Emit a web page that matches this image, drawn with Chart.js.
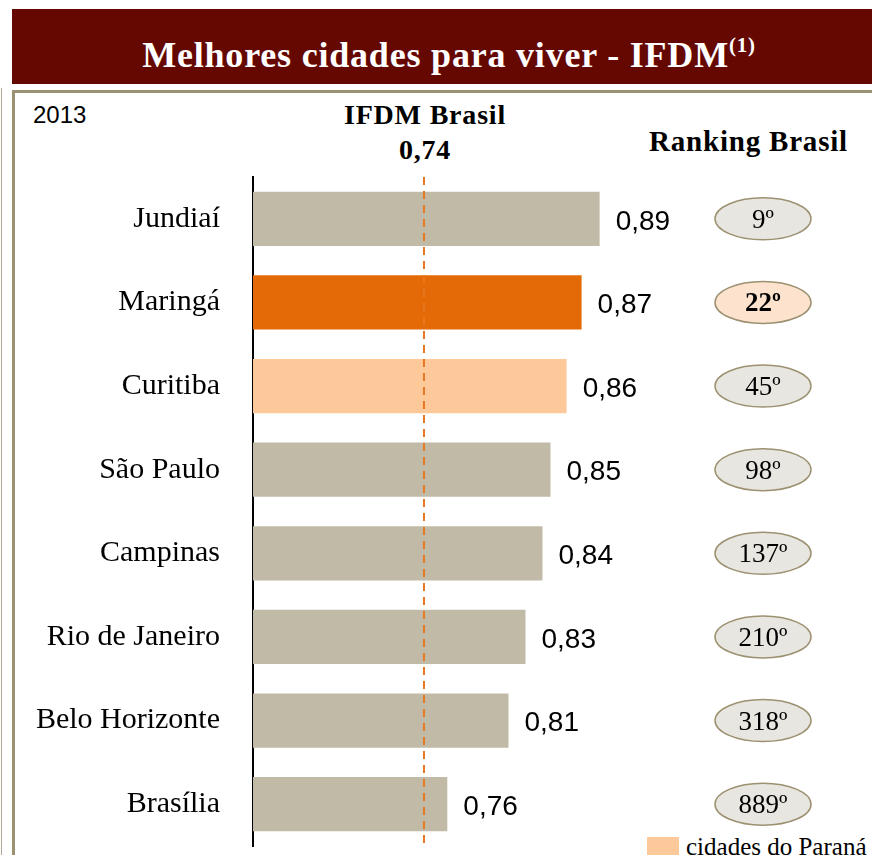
<!DOCTYPE html>
<html>
<head>
<meta charset="utf-8">
<script src="https://cdn.jsdelivr.net/npm/chart.js@4"></script>
<style>
  body { margin: 0; width: 872px; height: 855px; overflow: hidden; background: #fff; position: relative; }
  #header { position: absolute; left: 12px; top: 9px; width: 860px; height: 75px; background: #660802; }
  #title { position: absolute; left: 0; top: 24px; width: 874px; text-align: center; color: #fff;
           font: bold 36px "Liberation Serif", serif; letter-spacing: 0.8px; }
  #title sup { font-size: 21px; vertical-align: 15px; }
  #panel { position: absolute; left: 12px; top: 90px; width: 900px; height: 900px; border: 3px solid #9b9173; }
  #edge { position: absolute; left: 1px; top: 88px; width: 1px; height: 800px; background: #b0a890; }
  .txt { position: absolute; white-space: nowrap; color: #000; }
  #year { left: 33px; top: 101px; font: 24px "Liberation Sans", sans-serif; }
  #ifdm { left: 325px; top: 97px; width: 200px; text-align: center; font: bold 28px "Liberation Serif", serif; line-height: 35px; letter-spacing: 0.8px; }
  #rank { left: 649px; top: 125px; font: bold 29px "Liberation Serif", serif; letter-spacing: 0.8px; }
  #swatch { position: absolute; left: 647px; top: 837px; width: 32px; height: 20px; background: #fdc99b; }
  #legend { left: 686px; top: 833px; font: 25px "Liberation Serif", serif; }
  canvas { position: absolute; left: 0; top: 0; }
</style>
</head>
<body>
<div id="header"><div id="title">Melhores cidades para viver - IFDM<sup>(1)</sup></div></div>
<div id="edge"></div>
<div id="panel"></div>
<div class="txt" id="year">2013</div>
<div class="txt" id="ifdm">IFDM Brasil<br>0,74</div>
<div class="txt" id="rank">Ranking Brasil</div>
<div id="swatch"></div>
<div class="txt" id="legend">cidades do Paraná</div>
<canvas id="chart" width="872" height="855"></canvas>
<script>
// Data
const cities = ['Jundiaí', 'Maringá', 'Curitiba', 'São Paulo', 'Campinas', 'Rio de Janeiro', 'Belo Horizonte', 'Brasília'];
const ifdm = [0.889, 0.8737, 0.861, 0.8473, 0.8405, 0.8261, 0.8117, 0.7598];
const ranks = ['9º', '22º', '45º', '98º', '137º', '210º', '318º', '889º'];
const parana = ['Maringá', 'Curitiba'];
const highlight = 'Maringá';
const ifdmBrasil = 0.74;

const barColors = cities.map(c => c === highlight ? '#e36a06' : (parana.includes(c) ? '#fdc99b' : '#c1baa7'));

// Value labels next to bars
const valueLabels = {
  id: 'valueLabels',
  afterDatasetsDraw(chart) {
    const ctx = chart.ctx;
    ctx.save();
    ctx.font = '28px "Liberation Sans", sans-serif';
    ctx.fillStyle = '#000';
    ctx.textAlign = 'left';
    ctx.textBaseline = 'middle';
    chart.getDatasetMeta(0).data.forEach((bar, i) => {
      ctx.fillText(ifdm[i].toFixed(2).replace('.', ','), bar.x + 16, bar.y + 3);
    });
    ctx.restore();
  }
};

// Dashed line for Brasil average
const brasilLine = {
  id: 'brasilLine',
  afterDatasetsDraw(chart) {
    const ctx = chart.ctx;
    const x = chart.scales.x.getPixelForValue(ifdmBrasil);
    ctx.save();
    ctx.strokeStyle = '#e87722';
    ctx.lineWidth = 2;
    ctx.setLineDash([8, 6]);
    ctx.beginPath();
    ctx.moveTo(x, chart.chartArea.top);
    ctx.lineTo(x, chart.chartArea.bottom);
    ctx.stroke();
    ctx.restore();
  }
};

// Ranking ellipses
const rankBadges = {
  id: 'rankBadges',
  afterDraw(chart) {
    const ctx = chart.ctx;
    const y = chart.scales.y;
    ctx.save();
    cities.forEach((c, i) => {
      const cy = y.getPixelForValue(i);
      ctx.beginPath();
      ctx.ellipse(763, cy, 48, 21, 0, 0, Math.PI * 2);
      ctx.fillStyle = c === highlight ? '#fde3cd' : '#e8e6e0';
      ctx.fill();
      ctx.lineWidth = 1.5;
      ctx.strokeStyle = '#9c9171';
      ctx.stroke();
      ctx.fillStyle = '#000';
      ctx.font = (c === highlight ? 'bold ' : '') + '27px "Liberation Serif", serif';
      ctx.textAlign = 'center';
      ctx.textBaseline = 'middle';
      ctx.fillText(ranks[i], 763, cy + 2);
    });
    ctx.restore();
  }
};

new Chart(document.getElementById('chart'), {
  type: 'bar',
  data: {
    labels: cities,
    datasets: [{ data: ifdm, backgroundColor: barColors, barPercentage: 0.65, categoryPercentage: 1 }]
  },
  options: {
    indexAxis: 'y',
    responsive: false,
    animation: false,
    layout: { padding: { top: 177, bottom: 9, left: 0, right: 0 } },
    plugins: { legend: { display: false }, tooltip: { enabled: false } },
    scales: {
      x: { display: false, min: 0.595, max: 1.12 },
      y: {
        afterFit: s => { s.width = 253; s.paddingTop = 0; s.paddingBottom = 0; },
        grid: { display: false, drawTicks: false },
        border: { display: true, color: '#000', width: 2 },
        ticks: { padding: 33, color: '#000', font: { family: 'Liberation Serif', size: 30 } }
      }
    }
  },
  plugins: [valueLabels, brasilLine, rankBadges]
});
</script>
</body>
</html>
